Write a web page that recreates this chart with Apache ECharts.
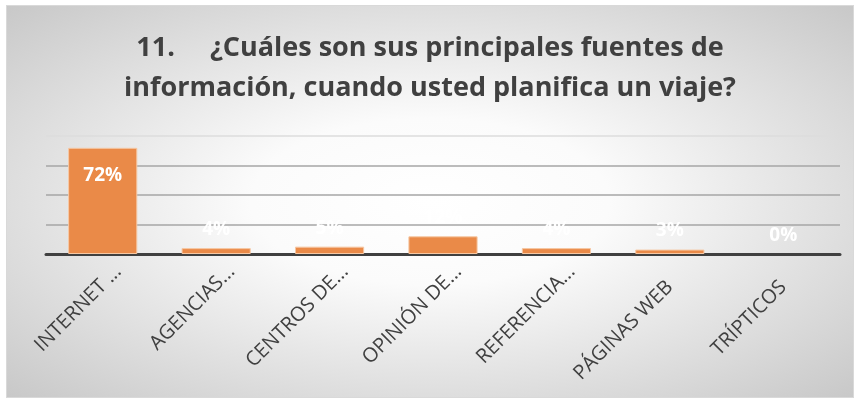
<!DOCTYPE html>
<html>
<head>
<meta charset="utf-8">
<script src="https://cdn.jsdelivr.net/npm/echarts@6/dist/echarts.min.js"></script>
<style>
  html, body { margin: 0; padding: 0; background: #fff; }
  .frame {
    position: absolute;
    left: 6px; top: 5px;
    width: 846px; height: 391px;
    border: 1px solid #d9d9d9;
    background: radial-gradient(ellipse at 50% 50%, #ffffff 0%, #fbfbfb 30%, #c8c8c8 100%);
  }
  #chart { width: 846px; height: 391px; }
</style>
</head>
<body>
<div class="frame"><div id="chart"></div></div>
<script>
// categories as shown on the axis (Excel truncated them)
const categories = ['INTERNET ...', 'AGENCIAS...', 'CENTROS DE...', 'OPINIÓN DE...', 'REFERENCIA...', 'PÁGINAS WEB', 'TRÍPTICOS'];
const values = [72, 4, 5, 12, 4, 3, 0];
const titleLines = ['11.     ¿Cuáles son sus principales fuentes de', 'información, cuando usted planifica un viaje?'];

const chart = echarts.init(document.getElementById('chart'));

// truncated labels sit a little further out along their slant
const axisData = categories.map(c => ({
  value: c,
  textStyle: { padding: c.endsWith('...') ? [0, -22, 0, 0] : [0, 0, 0, 0] }
}));

chart.setOption({
  animation: false,
  title: {
    text: titleLines.join('\n'),
    left: 'center',
    top: 17,
    textStyle: {
      fontFamily: 'Open Sans',
      fontWeight: 'bold',
      fontSize: 27,
      lineHeight: 40,
      color: '#404040'
    }
  },
  grid: { left: 39, right: 13, top: 130, bottom: 143 },
  xAxis: {
    type: 'category',
    data: axisData,
    axisLine: { lineStyle: { color: '#404040', width: 3 } },
    axisTick: { show: false },
    axisLabel: {
      interval: 0,
      rotate: 45,
      margin: 30,
      fontFamily: 'Open Sans',
      fontSize: 20,
      color: '#404040'
    }
  },
  yAxis: {
    type: 'value',
    min: 0,
    max: 80,
    interval: 20,
    axisLabel: { show: false },
    axisLine: { show: false },
    axisTick: { show: false },
    splitLine: {
      lineStyle: { color: ['#a6a6a6', '#a6a6a6', '#a6a6a6', '#a6a6a6', '#dcdcdc'], width: 1.5 }
    }
  },
  series: [{
    type: 'bar',
    data: values.map(v => ({
      value: v,
      itemStyle: v === 0 ? { borderWidth: 0, color: 'rgba(0,0,0,0)' } : undefined,
      label: v > 30
        ? { position: 'insideTop', distance: 18 }
        : { position: 'top', distance: 9 }
    })),
    barWidth: '61%',
    itemStyle: { color: '#EA8A48', borderColor: '#F6C8A4', borderWidth: 1 },
    label: {
      show: true,
      formatter: '{c}%',
      color: '#ffffff',
      fontFamily: 'Open Sans',
      fontWeight: 'bold',
      fontSize: 19
    }
  }]
});
</script>
</body>
</html>
